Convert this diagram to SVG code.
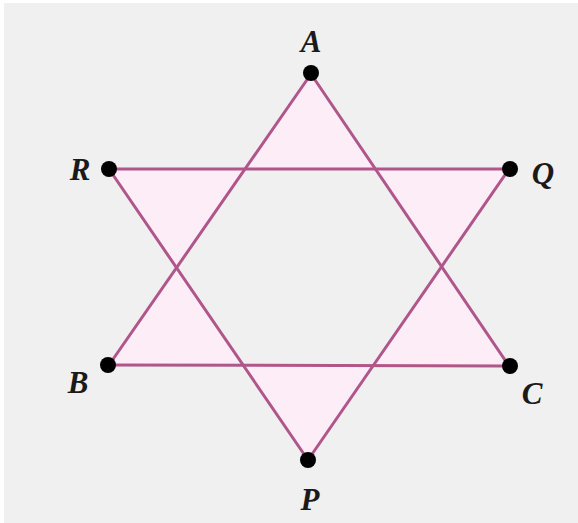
<svg xmlns="http://www.w3.org/2000/svg" width="578" height="523" viewBox="0 0 578 523">
<style>
.lbl{font-family:"Liberation Serif","DejaVu Serif",serif;font-weight:bold;font-style:italic;font-size:31px;fill:#1a1a1a;text-anchor:middle}
.dot{fill:#000}
.edge{stroke:#b0568a;stroke-width:3;fill:none;stroke-linecap:round}
</style>
<rect x="0" y="0" width="578" height="523" fill="#ffffff"/>
<rect x="4" y="3" width="574" height="520" fill="#f0f0f0"/>
<path d="M311,74 L109,365 L509,366 Z M308,460 L509,169 L109,169 Z" fill="#fcedf7" fill-rule="evenodd"/>
<g id="connectors">
<line class="edge" x1="311" y1="74" x2="109" y2="365"/>
<line class="edge" x1="311" y1="74" x2="509" y2="366"/>
<line class="edge" x1="109" y1="365" x2="509" y2="366"/>
<line class="edge" x1="308" y1="460" x2="109" y2="169"/>
<line class="edge" x1="308" y1="460" x2="509" y2="169"/>
<line class="edge" x1="109" y1="169" x2="509" y2="169"/>
</g>
<g id="A"><circle class="dot" cx="311" cy="73" r="8"/><text class="lbl" x="311" y="52">A</text></g>
<g id="R"><circle class="dot" cx="109" cy="169" r="8"/><text class="lbl" x="80" y="180">R</text></g>
<g id="Q"><circle class="dot" cx="510" cy="169" r="8"/><text class="lbl" x="543" y="184">Q</text></g>
<g id="B"><circle class="dot" cx="108" cy="365" r="8"/><text class="lbl" x="78" y="393">B</text></g>
<g id="C"><circle class="dot" cx="510" cy="366" r="8"/><text class="lbl" x="532" y="404">C</text></g>
<g id="P"><circle class="dot" cx="308" cy="460" r="8"/><text class="lbl" x="310" y="510">P</text></g>
</svg>
